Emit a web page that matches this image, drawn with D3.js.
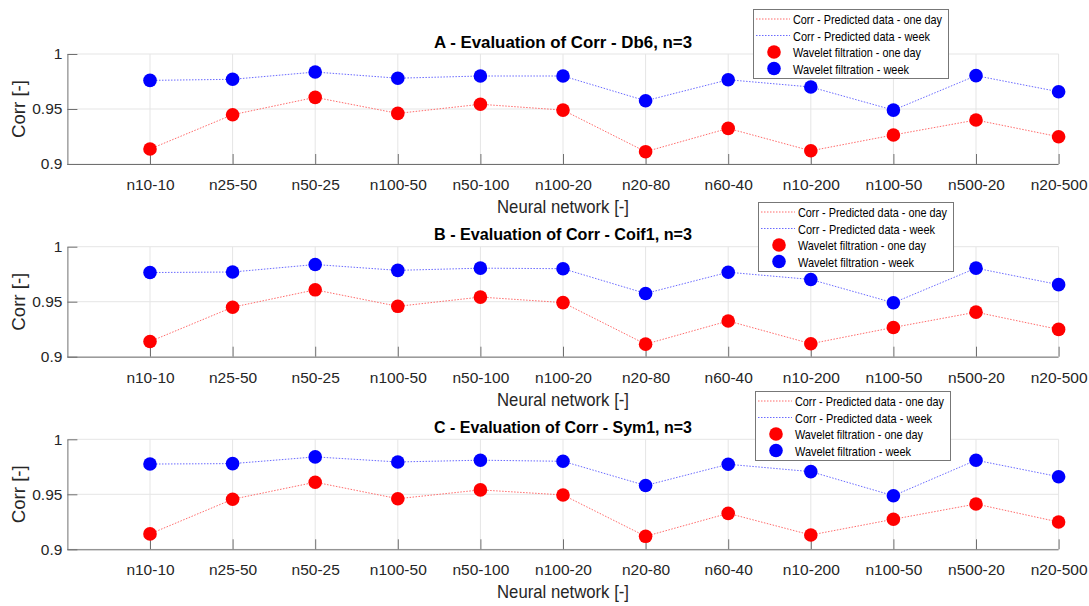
<!DOCTYPE html>
<html><head><meta charset="utf-8">
<script src="https://cdn.jsdelivr.net/npm/d3@7"></script>
<style>body{margin:0;background:#fff}svg{display:block}text{font-family:"Liberation Sans",Arial,sans-serif}</style>
</head><body><svg id="c" width="1089" height="606"></svg>
<script>
const categories = ["n10-10","n25-50","n50-25","n100-50","n50-100","n100-20","n20-80","n60-40","n10-200","n100-50","n500-20","n20-500"];
const yTicks = [0.9, 0.95, 1];
const yTickLabels = ["0.9","0.95","1"];
const titles = ["A - Evaluation of Corr - Db6, n=3","B - Evaluation of Corr - Coif1, n=3","C - Evaluation of Corr - Sym1, n=3"];
const legendLabels = ["Corr - Predicted data - one day","Corr - Predicted data - week","Wavelet filtration - one day","Wavelet filtration - week"];
const weekA = [0.976,0.977,0.9836,0.978,0.980,0.980,0.9575,0.9766,0.970,0.949,0.9803,0.9657];
const dayA  = [0.9136,0.9448,0.9606,0.946,0.9543,0.949,0.9112,0.9324,0.912,0.9264,0.940,0.9248];
const weekB = [0.9765,0.977,0.9838,0.9785,0.9805,0.980,0.9575,0.9768,0.9702,0.949,0.9805,0.9655];
const dayB  = [0.9138,0.945,0.9608,0.9458,0.9542,0.9492,0.9114,0.9325,0.9118,0.9266,0.9405,0.9248];
const weekC = [0.9775,0.9779,0.984,0.9794,0.981,0.980,0.958,0.9773,0.9706,0.9487,0.981,0.966];
const dayC  = [0.914,0.9455,0.961,0.946,0.954,0.9494,0.9118,0.9327,0.913,0.9273,0.9412,0.9248];

const panels = [
  {title:titles[0], week:weekA, day:dayA, top:54, legend:{x:753,y:9}},
  {title:titles[1], week:weekB, day:dayB, top:246.7, legend:{x:758,y:202}},
  {title:titles[2], week:weekC, day:dayC, top:439.3, legend:{x:755,y:391}}
];
const legendWidths = [149, 137, 128, 116];
const svg = d3.select("#c");
const L = 67.4, R = 1058.6, H = 110;
const x = d3.scaleLinear().domain([0, categories.length]).range([L, R]);
const RED = "#ff0000", BLUE = "#0000ff";

panels.forEach(p => {
  const g = svg.append("g");
  const y = d3.scaleLinear().domain([0.9, 1]).range([p.top + H, p.top]);
  g.selectAll(".vg").data(categories).enter().append("line")
    .attr("x1",(d,i)=>x(i+1)).attr("x2",(d,i)=>x(i+1))
    .attr("y1",p.top).attr("y2",p.top+H).attr("stroke","#e5e5e5").attr("stroke-width",1);
  g.selectAll(".hg").data(yTicks).enter().append("line")
    .attr("x1",L).attr("x2",R).attr("y1",d=>y(d)).attr("y2",d=>y(d))
    .attr("stroke","#e5e5e5").attr("stroke-width",1);
  const xa = d3.axisBottom(x).tickValues(d3.range(1, categories.length+1))
    .tickFormat(d=>categories[d-1]).tickSizeInner(-10).tickSizeOuter(0).tickPadding(15);
  const xg = g.append("g").attr("transform",`translate(0,${p.top+H})`).call(xa);
  xg.select(".domain").attr("stroke","#707070").attr("d",`M${L},0.5H${R}`);
  xg.selectAll(".tick line").attr("stroke","#707070");
  xg.selectAll(".tick text").attr("fill","#262626").attr("font-size","15.5px")
    .attr("font-family","'Liberation Sans',Arial,sans-serif");
  const ya = d3.axisLeft(y).tickValues(yTicks).tickFormat((d,i)=>yTickLabels[i])
    .tickSizeInner(-10).tickSizeOuter(0).tickPadding(5);
  const yg = g.append("g").attr("transform",`translate(${L},0)`).call(ya);
  yg.select(".domain").attr("stroke","#707070");
  yg.selectAll(".tick line").attr("stroke","#707070");
  yg.selectAll(".tick text").attr("fill","#262626").attr("font-size","15.5px")
    .attr("font-family","'Liberation Sans',Arial,sans-serif");
  g.append("text").attr("x",(L+R)/2).attr("y",p.top-6.5).attr("text-anchor","middle")
    .attr("font-weight","bold").attr("font-size","16.5px").attr("fill","#000")
    .attr("textLength",258).attr("lengthAdjust","spacingAndGlyphs").text(p.title);
  g.append("text").attr("transform",`translate(25,${p.top+H/2}) rotate(-90)`).attr("text-anchor","middle")
    .attr("font-size","18px").attr("fill","#262626")
    .attr("textLength",58).attr("lengthAdjust","spacingAndGlyphs").text("Corr [-]");
  g.append("text").attr("x",(L+R)/2).attr("y",p.top+H+49).attr("text-anchor","middle")
    .attr("font-size","19px").attr("fill","#262626")
    .attr("textLength",132).attr("lengthAdjust","spacingAndGlyphs").text("Neural network [-]");
  const line = d3.line().x((d,i)=>x(i+1)).y(d=>y(d));
  g.append("path").datum(p.day).attr("d",line).attr("fill","none").attr("stroke","#ff6b6b")
    .attr("stroke-width",1).attr("stroke-dasharray","1.5,1.5");
  g.append("path").datum(p.week).attr("d",line).attr("fill","none").attr("stroke","#6b6bff")
    .attr("stroke-width",1).attr("stroke-dasharray","1.5,1.5");
  g.selectAll(".pd").data(p.day).enter().append("circle")
    .attr("cx",(d,i)=>x(i+1)).attr("cy",d=>y(d)).attr("r",6.8).attr("fill",RED);
  g.selectAll(".pw").data(p.week).enter().append("circle")
    .attr("cx",(d,i)=>x(i+1)).attr("cy",d=>y(d)).attr("r",6.8).attr("fill",BLUE);
  const lg = g.append("g").attr("transform",`translate(${p.legend.x},${p.legend.y})`);
  lg.append("rect").attr("x",0.5).attr("y",0.5).attr("width",195).attr("height",69)
    .attr("fill","#fff").attr("stroke","#777").attr("stroke-width",1);
  const rowsY = [10,26.5,43,59.5];
  ["#ff6b6b","#6b6bff"].forEach((c,i)=>{
    lg.append("line").attr("x1",3).attr("x2",37).attr("y1",rowsY[i]).attr("y2",rowsY[i])
      .attr("stroke",c).attr("stroke-width",1).attr("stroke-dasharray","1.5,1.5");
  });
  [RED,BLUE].forEach((c,i)=>{
    lg.append("circle").attr("cx",21).attr("cy",rowsY[i+2]).attr("r",6.8).attr("fill",c);
  });
  legendLabels.forEach((t,i)=>{
    lg.append("text").attr("x",40).attr("y",rowsY[i]+5).attr("font-size","13.5px")
      .attr("fill","#000").attr("textLength",legendWidths[i]).attr("lengthAdjust","spacingAndGlyphs").text(t);
  });
});
</script></body></html>
